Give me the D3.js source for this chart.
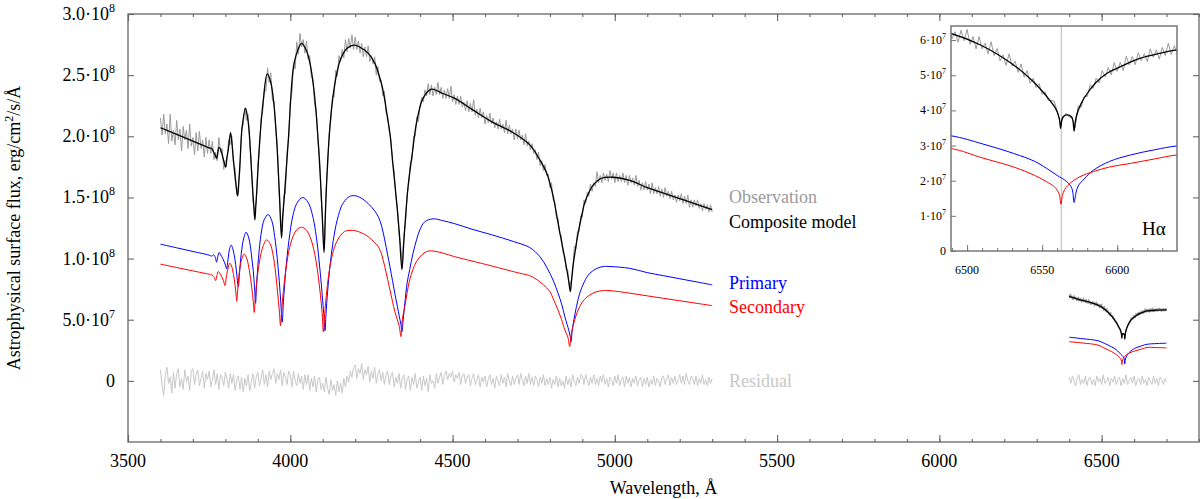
<!DOCTYPE html>
<html>
<head>
<meta charset="utf-8">
<script src="https://cdn.jsdelivr.net/npm/d3@7/dist/d3.min.js"></script>
<style>
	body { margin: 0; background: #fff; }
	text { font-family: "Liberation Serif", "Times New Roman", serif; }
</style>
</head>
<body>
<div id="chart-area"></div>
<script>
// DATA - flux in units of 1e8 erg/cm2/s/A, wavelength in A

// composite model, blue part of the spectrum [wavelength, flux]
const composite = [[3600,2.07],[3650,2.015],[3700,1.96],[3750,1.905],[3758,1.90],[3764,1.87],[3768,1.85],[3773,1.82],[3777,1.87],[3780,1.91],[3784,1.90],[3789,1.86],[3795,1.80],[3801,1.747],[3805,1.83],[3809,1.89],[3816,2.03],[3820,1.95],[3824,1.83],[3828,1.72],[3832,1.62],[3838,1.51],[3842,1.65],[3845,1.78],[3852,2.08],[3862,2.23],[3868,2.16],[3873,2.05],[3881,1.70],[3887,1.45],[3891,1.316],[3894,1.44],[3897,1.56],[3906,1.97],[3917,2.30],[3929,2.51],[3940,2.44],[3950,2.25],[3958,1.97],[3966,1.56],[3973,1.167],[3977,1.35],[3981,1.48],[3994,1.97],[4009,2.55],[4020,2.68],[4035,2.76],[4050,2.70],[4062,2.58],[4072,2.40],[4080,2.18],[4087,1.92],[4093,1.65],[4098,1.38],[4104,1.05],[4108,1.35],[4112,1.62],[4118,1.92],[4127,2.22],[4140,2.47],[4155,2.63],[4175,2.72],[4199,2.745],[4220,2.72],[4240,2.68],[4260,2.60],[4271,2.52],[4282,2.42],[4291,2.30],[4299,2.16],[4307,2.025],[4317,1.75],[4327,1.48],[4336,1.21],[4344,0.91],[4349,1.10],[4353,1.26],[4363,1.59],[4376,1.86],[4389,2.11],[4409,2.31],[4435,2.385],[4470,2.35],[4507,2.31],[4560,2.22],[4620,2.12],[4680,2.04],[4738,1.93],[4769,1.807],[4790,1.70],[4800,1.616],[4810,1.51],[4820,1.37],[4830,1.22],[4841,1.07],[4854,0.88],[4859,0.80],[4863,0.73],[4867,0.83],[4871,0.935],[4879,1.08],[4887,1.21],[4897,1.34],[4907,1.453],[4920,1.54],[4933,1.60],[4959,1.657],[4995,1.665],[5046,1.64],[5100,1.58],[5150,1.535],[5200,1.49],[5250,1.445],[5300,1.40]]

// primary component
const primary = [[3600,1.118],[3650,1.088],[3700,1.058],[3750,1.028],[3758,1.02],[3764,1.03],[3769,1.01],[3773,0.97],[3777,1.02],[3781,1.05],[3786,1.03],[3792,1.00],[3797,0.97],[3801,0.94],[3804,0.915],[3808,0.99],[3813,1.08],[3818,1.11],[3823,1.08],[3829,1.00],[3834,0.90],[3838,0.80],[3840,0.77],[3843,0.86],[3849,1.04],[3856,1.16],[3864,1.215],[3872,1.17],[3880,1.04],[3886,0.90],[3890,0.76],[3893,0.635],[3896,0.78],[3902,1.00],[3910,1.20],[3920,1.32],[3932,1.36],[3943,1.31],[3952,1.18],[3960,1.00],[3966,0.82],[3971,0.63],[3975,0.48],[3979,0.65],[3986,0.90],[3996,1.15],[4008,1.35],[4020,1.45],[4038,1.50],[4055,1.46],[4068,1.36],[4078,1.22],[4087,1.03],[4094,0.84],[4100,0.65],[4104,0.52],[4107,0.41],[4110,0.54],[4115,0.73],[4122,0.93],[4132,1.14],[4145,1.32],[4160,1.44],[4178,1.50],[4194,1.515],[4215,1.50],[4240,1.45],[4260,1.39],[4271,1.343],[4282,1.26],[4291,1.153],[4300,1.03],[4307,0.935],[4315,0.82],[4322,0.717],[4330,0.61],[4336,0.526],[4341,0.46],[4344,0.40],[4348,0.50],[4353,0.635],[4360,0.80],[4368,0.91],[4378,1.04],[4389,1.153],[4400,1.24],[4414,1.30],[4440,1.325],[4470,1.31],[4507,1.285],[4560,1.24],[4620,1.195],[4687,1.14],[4738,1.09],[4769,1.016],[4790,0.93],[4812,0.81],[4825,0.717],[4836,0.63],[4846,0.526],[4853,0.46],[4858,0.417],[4862,0.37],[4865,0.32],[4869,0.42],[4874,0.50],[4882,0.61],[4892,0.717],[4906,0.81],[4923,0.88],[4945,0.92],[4964,0.935],[4985,0.935],[5046,0.92],[5100,0.885],[5150,0.86],[5200,0.835],[5250,0.81],[5300,0.785]]

// secondary component
const secondary = [[3600,0.954],[3650,0.927],[3700,0.899],[3750,0.872],[3757,0.868],[3762,0.86],[3766,0.845],[3770,0.82],[3774,0.86],[3778,0.894],[3783,0.88],[3789,0.85],[3794,0.82],[3799,0.78],[3803,0.85],[3809,0.93],[3814,0.962],[3819,0.94],[3825,0.87],[3830,0.78],[3833,0.71],[3835,0.65],[3838,0.74],[3844,0.91],[3851,1.00],[3858,1.036],[3866,1.00],[3874,0.90],[3881,0.77],[3886,0.65],[3889,0.56],[3892,0.66],[3898,0.84],[3906,0.99],[3916,1.10],[3927,1.153],[3938,1.12],[3947,1.03],[3955,0.88],[3961,0.72],[3966,0.58],[3970,0.45],[3973,0.56],[3979,0.74],[3988,0.94],[3998,1.09],[4010,1.19],[4020,1.235],[4035,1.257],[4050,1.23],[4062,1.17],[4072,1.08],[4080,0.97],[4087,0.84],[4093,0.70],[4098,0.56],[4102,0.40],[4106,0.55],[4111,0.70],[4118,0.86],[4127,1.00],[4140,1.12],[4155,1.19],[4170,1.225],[4184,1.23],[4199,1.229],[4220,1.21],[4240,1.18],[4260,1.13],[4271,1.098],[4282,1.03],[4291,0.935],[4300,0.83],[4307,0.744],[4315,0.65],[4322,0.567],[4330,0.50],[4336,0.444],[4341,0.362],[4345,0.50],[4353,0.608],[4360,0.72],[4368,0.826],[4378,0.91],[4389,0.976],[4405,1.03],[4420,1.057],[4435,1.063],[4470,1.045],[4507,1.015],[4560,0.98],[4620,0.94],[4707,0.88],[4738,0.86],[4769,0.81],[4790,0.76],[4800,0.73],[4812,0.66],[4825,0.58],[4836,0.50],[4846,0.417],[4852,0.38],[4856,0.35],[4861,0.28],[4865,0.37],[4871,0.444],[4880,0.53],[4892,0.608],[4906,0.665],[4923,0.703],[4945,0.73],[4964,0.738],[4985,0.738],[5046,0.717],[5100,0.695],[5150,0.675],[5200,0.655],[5250,0.635],[5300,0.615]]

// H-alpha region models
const compositeHa = [[6400,0.69],[6430,0.665],[6460,0.645],[6489,0.619],[6509,0.586],[6531,0.529],[6544,0.482],[6550,0.455],[6555,0.429],[6558,0.412],[6560,0.396],[6561.5,0.375],[6562.3,0.349],[6563,0.37],[6564,0.382],[6566.5,0.387],[6569.5,0.382],[6570.5,0.37],[6571.3,0.341],[6572,0.365],[6573,0.387],[6576,0.42],[6580,0.448],[6586,0.48],[6593,0.505],[6604,0.528],[6615,0.548],[6628,0.562],[6640,0.572],[6670,0.578],[6700,0.58]]
const primaryHa = [[6400,0.357],[6440,0.345],[6489,0.328],[6510,0.305],[6531,0.2775],[6545,0.255],[6553,0.235],[6560,0.215],[6566.5,0.197],[6569.8,0.178],[6571.3,0.138],[6572.5,0.165],[6574,0.185],[6578,0.205],[6584.2,0.23],[6595,0.255],[6608.7,0.273],[6625,0.288],[6640,0.299],[6670,0.305],[6700,0.308]]
const secondaryHa = [[6400,0.32],[6440,0.31],[6489,0.292],[6510,0.265],[6531,0.239],[6545,0.215],[6553,0.197],[6558,0.183],[6560,0.173],[6561.5,0.16],[6562.5,0.133],[6563.5,0.158],[6565,0.175],[6569.8,0.197],[6576,0.213],[6584.2,0.226],[6595,0.239],[6608.7,0.249],[6625,0.262],[6640,0.273],[6670,0.272],[6700,0.27]]

// observed spectrum and residual, blue part: 3600 A onward, one value every 5 A
const obsBlueStart = 3600
const obsBlueStep = 5
const obsBlue = [2.15,2.01,2.18,2.02,2.10,1.94,2.18,1.96,2.05,1.93,2.13,1.97,2.06,1.88,2.08,1.97,2.05,1.90,2.10,1.92,1.99,1.85,2.03,1.88,2.04,1.90,1.97,1.83,1.99,1.86,1.97,
	1.86,1.96,1.81,1.87,1.80,1.99,1.87,1.90,1.73,1.80,1.81,1.97,1.93,2.00,1.77,1.74,1.52,1.60,1.72,2.07,2.09,2.23,2.13,2.18,1.94,1.79,1.47,1.39,1.45,1.77,1.88,2.15,2.20,2.37,2.37,2.56,2.44,2.52,2.29,2.29,2.06,1.93,1.56,1.36,1.22,1.52,1.53,1.87,1.98,2.28,2.35,2.60,2.55,2.77,2.67,2.84,2.73,
	2.79,2.68,2.78,2.63,2.66,2.48,2.47,2.26,2.22,1.97,1.84,1.50,1.29,1.07,1.55,1.74,2.03,2.13,2.33,2.32,2.54,2.49,2.66,2.61,2.71,2.64,2.79,2.69,2.80,2.72,2.83,2.71,2.81,2.71,2.78,2.68,2.76,2.65,2.73,2.65,2.74,2.61,2.66,2.59,2.65,2.50,2.57,2.45,2.46,2.33,2.37,2.19,2.17,2.04,1.98,1.78,1.72,1.51,1.42,1.20,1.11,0.92,1.20,1.27,1.52,1.61,1.79,1.80,2.00,2.00,2.16,2.12,2.25,
	2.32,2.28,2.38,2.33,2.43,2.34,2.42,2.33,2.40,2.34,2.44,2.34,2.40,2.31,2.38,2.31,2.39,2.31,2.41,2.28,
	2.34,2.26,2.33,2.26,2.33,2.24,2.28,2.21,2.29,2.20,2.27,2.20,2.30,2.17,2.22,2.15,2.23,2.15,2.20,2.10,
	2.17,2.11,2.19,2.10,2.15,2.07,2.12,2.06,2.14,2.06,2.10,2.03,2.13,2.02,2.09,2.02,2.06,1.97,2.06,1.98,
	2.05,1.97,2.01,1.93,2.02,1.92,1.96,1.89,1.94,1.86,1.89,1.81,1.87,1.76,1.80,1.72,1.77,1.68,1.69,1.58,
	1.62,1.48,1.46,1.33,1.33,1.20,1.19,1.05,1.03,0.91,0.91,0.76,0.81,0.88,1.10,1.08,1.22,1.22,1.35,1.34,
	1.48,1.45,1.54,1.51,1.61,1.55,1.62,1.59,1.71,1.62,1.68,1.62,1.70,1.64,1.69,1.63,1.72,1.65,1.70,1.62,
	1.70,1.63,1.68,1.63,1.70,1.62,1.68,1.60,1.68,1.62,1.66,1.60,1.68,1.59,1.64,1.56,1.62,1.56,1.63,1.56,
	1.61,1.53,1.62,1.53,1.58,1.53,1.59,1.51,1.57,1.50,1.58,1.51,1.55,1.49,1.55,1.48,1.52,1.46,1.52,1.47,
	1.53,1.45,1.51,1.45,1.52,1.42,1.48,1.42,1.48,1.43,1.48,1.41,1.45,1.39,1.45,1.40,1.44,1.38,1.44,1.38]

const residualBlue = [0.09,-0.04,-0.12,0.05,0.11,-0.02,0.03,-0.10,0.07,-0.06,
	0.06,0.10,-0.05,0.02,-0.07,0.09,-0.01,0.04,-0.08,0.08,
	0.10,-0.03,0.05,0.09,-0.04,0.02,0.08,-0.06,0.06,0.01,
	0.08,-0.05,0.01,0.09,-0.03,0.06,-0.07,0.05,0.03,-0.04,
	0.07,0.02,-0.06,0.06,-0.02,0.05,-0.08,0.01,0.04,-0.07,
	0.03,-0.09,0.02,-0.04,0.05,-0.08,-0.01,0.06,-0.06,0.03,
	0.07,-0.04,0.02,0.09,-0.03,0.05,-0.05,0.08,0.01,0.06,
	0.10,-0.02,0.06,0.01,0.09,-0.04,0.07,0.03,-0.03,0.08,
	0.05,-0.05,0.08,0.00,-0.04,0.06,-0.02,0.04,-0.07,0.05,
	-0.03,0.05,-0.08,0.02,-0.05,0.04,-0.09,0.01,0.03,-0.07,
	-0.02,-0.09,0.03,-0.06,-0.11,0.01,-0.08,-0.03,-0.12,0.00,
	-0.09,-0.02,-0.10,0.02,-0.05,0.04,-0.01,0.08,0.03,0.11,
	0.13,0.02,0.10,0.06,0.14,0.01,0.09,0.05,0.12,-0.01,
	0.08,0.02,0.11,-0.02,0.06,0.09,0.00,0.07,-0.03,0.05,
	0.08,-0.03,0.04,0.07,-0.05,0.03,-0.02,0.06,-0.06,0.02,
	0.05,-0.07,0.01,0.04,-0.08,0.03,-0.03,0.06,-0.06,-0.01,
	0.03,-0.08,0.04,-0.04,0.02,-0.09,0.05,-0.02,0.00,-0.06,
	0.06,-0.02,0.03,0.07,-0.03,0.05,0.08,0.01,0.06,0.03,
	0.08,-0.01,0.05,0.02,0.07,-0.03,0.04,0.06,-0.02,0.03,
	0.05,-0.04,0.02,0.06,-0.03,0.01,0.05,-0.05,0.03,-0.01,
	0.04,-0.05,0.01,0.05,-0.03,0.02,-0.06,0.04,0.00,-0.04,
	0.05,-0.02,0.03,-0.05,0.06,0.00,-0.04,0.04,-0.03,0.02,
	0.05,-0.03,0.06,0.01,-0.04,0.04,-0.02,0.06,-0.03,0.03,
	-0.04,0.04,0.01,-0.05,0.03,-0.02,0.05,-0.04,0.02,-0.03,
	0.03,-0.06,0.01,-0.03,0.04,-0.05,0.02,-0.04,0.00,-0.06,
	0.04,-0.03,0.02,-0.05,0.05,0.00,-0.04,0.03,-0.02,0.05,
	0.04,-0.03,0.05,0.01,-0.04,0.03,-0.02,0.05,-0.03,0.02,
	-0.04,0.04,-0.01,0.05,-0.03,0.02,-0.05,0.03,0.01,-0.04,
	0.04,-0.02,0.05,-0.04,0.01,0.03,-0.05,0.04,-0.02,0.03,
	-0.05,0.02,-0.02,0.04,-0.04,0.01,0.03,-0.05,0.02,-0.03,
	0.03,-0.05,0.01,-0.03,0.04,-0.04,0.02,0.00,-0.05,0.03,
	0.04,-0.03,0.02,0.05,-0.04,0.03,-0.02,0.04,-0.03,0.01,
	0.05,-0.02,0.04,-0.03,0.06,0.00,-0.03,0.04,0.02,-0.03,
	0.04,-0.04,0.02,-0.02,0.05,-0.03,0.01,-0.04,0.03,-0.02,
	0.02]

// observed spectrum around H-alpha: 6400 A onward, one value every 2 A
const obsHaStart = 6400
const obsHaStep = 2
const obsHa = [0.708,0.676,0.712,0.677,0.698,0.662,0.690,0.663,0.699,0.669,0.687,0.654,0.678,0.658,0.687,0.651,0.676,0.654,0.677,0.641,
	0.667,0.644,0.680,0.647,0.664,0.636,0.669,0.639,0.654,0.631,0.666,0.634,0.654,0.623,0.646,0.624,0.652,0.627,0.646,0.609,
	0.639,0.618,0.647,0.611,0.636,0.604,0.624,0.594,0.628,0.598,0.630,0.588,0.610,0.575,0.610,0.575,0.591,0.561,0.595,0.556,
	0.576,0.541,0.558,0.528,0.561,0.526,0.540,0.508,0.532,0.495,0.513,0.477,0.491,0.465,0.476,0.445,0.453,0.428,0.428,0.427,
	0.398,0.363,0.378,0.392,0.381,0.378,0.351,0.413,0.408,0.441,0.439,0.473,0.462,0.492,0.478,0.513,0.495,0.522,0.501,0.536,
	0.511,0.537,0.513,0.554,0.529,0.553,0.530,0.564,0.541,0.561,0.539,0.575,0.551,0.572,0.546,0.579,0.556,0.591,0.559,0.584,
	0.560,0.589,0.565,0.584,0.559,0.593,0.569,0.589,0.562,0.598,0.566,0.588,0.563,0.586,0.569,0.594,0.567,0.591,0.570,0.597,
	0.572,0.591,0.564,0.590,0.572,0.594,0.568,0.589,0.570,0.595,0.574]

// residual around H-alpha: 6400 A onward, one value every 5 A
const residualHaStart = 6400
const residualHaStep = 5
const residualHa = [0.03,-0.02,0.04,0.00,-0.04,0.02,0.05,-0.03,0.01,-0.02,
	0.04,-0.04,0.02,0.03,-0.03,0.01,-0.04,0.04,-0.01,0.02,
	-0.03,0.05,-0.02,0.00,0.03,-0.04,0.02,-0.01,0.04,-0.03,
	0.01,0.03,-0.04,0.02,-0.02,0.05,-0.03,0.00,0.03,-0.02,
	0.04,-0.04,0.01,0.02,-0.03,0.04,-0.02,0.01,-0.04,0.03,
	0.00,-0.03,0.04,-0.02,0.02,-0.04,0.03,0.01,-0.03,0.02,
	-0.01]

const haRest = 6562.8

// TICKS AND LABELS
const xMajorTicks = [3500, 4000, 4500, 5000, 5500, 6000, 6500]
const yTicks = [0, 0.5, 1.0, 1.5, 2.0, 2.5, 3.0]
const yTickMantissa = ["0", "5.0·10", "1.0·10", "1.5·10", "2.0·10", "2.5·10", "3.0·10"]
const yTickExponent = ["", "7", "8", "8", "8", "8", "8"]

const insetXTicks = [6500, 6550, 6600]
const insetYTicks = [0, 0.1, 0.2, 0.3, 0.4, 0.5, 0.6]
const insetYMantissa = ["0", "1·10", "2·10", "3·10", "4·10", "5·10", "6·10"]
const insetYExponent = ["", "7", "7", "7", "7", "7", "7"]

const legendLabels = ["Observation", "Composite model", "Primary", "Secondary", "Residual"]

// STYLES
const COLOR = {
	obs: "#9a9a9a",
	model: "#000000",
	primary: "#0000ff",
	secondary: "#ff0000",
	residual: "#c8c8c8",
	frame: "#666666",
	haLine: "#cccccc"
}
const legendColors = [COLOR.obs, COLOR.model, COLOR.primary, COLOR.secondary, COLOR.residual]
const LEGEND_Y = [189, 214, 275, 299, 373]

// MARGINS
const MARGIN = { LEFT: 128, RIGHT: 1, TOP: 14, BOTTOM: 57 }
const AREA_WIDTH = 1200
const AREA_HEIGHT = 499
const WIDTH = AREA_WIDTH - MARGIN.LEFT - MARGIN.RIGHT
const HEIGHT = AREA_HEIGHT - MARGIN.TOP - MARGIN.BOTTOM

// INSET BOX (absolute position)
const INSET = { LEFT: 951, TOP: 26, WIDTH: 226, HEIGHT: 225 }

const svg = d3.select("#chart-area").append("svg")
	.attr("width", AREA_WIDTH)
	.attr("height", AREA_HEIGHT)

const g = svg.append("g")
	.attr("transform", `translate(${MARGIN.LEFT},${MARGIN.TOP})`)

// SCALES
const x = d3.scaleLinear().domain([3500, 6800]).range([0, WIDTH])
const y = d3.scaleLinear().domain([-0.5, 3.0]).range([HEIGHT, 0])

const toPairs = (start, step, values) => values.map((v, i) => [start + i * step, v])

const smoothLine = d3.line()
	.x(d => x(d[0]))
	.y(d => y(d[1]))
	.curve(d3.curveCatmullRom.alpha(0.5))

const rawLine = d3.line()
	.x(d => x(d[0]))
	.y(d => y(d[1]))

function drawPath(parent, data, gen, color, width) {
	parent.append("path")
		.attr("d", gen(data))
		.attr("fill", "none")
		.attr("stroke", color)
		.attr("stroke-width", width)
		.attr("stroke-linejoin", "round")
}

// superscript labels like 2.0·10^8
function expText(sel, mantissa, exponent, supSize, rise) {
	sel.each(function (d, i) {
		const t = d3.select(this)
		t.append("tspan").text(mantissa[i])
		if (exponent[i]) t.append("tspan").attr("dy", -rise).attr("font-size", supSize).text(exponent[i])
	})
}

// FRAME + TICKS
g.append("rect")
	.attr("width", WIDTH)
	.attr("height", HEIGHT)
	.attr("fill", "none")
	.attr("stroke", COLOR.frame)
	.attr("stroke-width", 1.3)

const xMinor = d3.range(3500, 6801, 100)

const tickGroups = [
	g.append("g").attr("transform", `translate(0,${HEIGHT})`).call(d3.axisBottom(x).tickValues(xMinor).tickSize(-3).tickFormat("")),
	g.append("g").attr("transform", `translate(0,${HEIGHT})`).call(d3.axisBottom(x).tickValues(xMajorTicks).tickSize(-7).tickFormat("")),
	g.append("g").call(d3.axisTop(x).tickValues(xMinor).tickSize(-3).tickFormat("")),
	g.append("g").call(d3.axisTop(x).tickValues(xMajorTicks).tickSize(-7).tickFormat("")),
	g.append("g").call(d3.axisLeft(y).tickValues(yTicks).tickSize(-6).tickFormat("")),
	g.append("g").attr("transform", `translate(${WIDTH},0)`).call(d3.axisRight(y).tickValues(yTicks).tickSize(-6).tickFormat(""))
]
tickGroups.forEach(tg => {
	tg.select(".domain").remove()
	tg.selectAll("line").attr("stroke", COLOR.frame).attr("stroke-width", 1.1)
})

// tick labels
g.selectAll(".x-label").data(xMajorTicks).enter().append("text")
	.attr("class", "x-label")
	.attr("x", d => x(d))
	.attr("y", HEIGHT + 25)
	.attr("text-anchor", "middle")
	.attr("font-size", 18)
	.text(d => d)

g.selectAll(".y-label").data(yTicks).enter().append("text")
	.attr("class", "y-label")
	.attr("x", -13)
	.attr("y", d => y(d) + 6)
	.attr("text-anchor", "end")
	.attr("font-size", 18)
	.call(expText, yTickMantissa, yTickExponent, 12, 8)

// axis titles
const yTitle = svg.append("text")
	.attr("transform", "translate(20,228) rotate(-90)")
	.attr("text-anchor", "middle")
	.attr("font-size", 18)
yTitle.append("tspan").text("Astrophysical surface flux, erg/cm")
yTitle.append("tspan").attr("dy", -7).attr("font-size", 12).text("2")
yTitle.append("tspan").attr("dy", 7).text("/s/Å")

g.append("text")
	.attr("x", WIDTH / 2)
	.attr("y", HEIGHT + 52)
	.attr("text-anchor", "middle")
	.attr("font-size", 18)
	.text("Wavelength, Å")

// SPECTRA - main panel
const obsBluePts = toPairs(obsBlueStart, obsBlueStep, obsBlue)
const obsHaPts = toPairs(obsHaStart, obsHaStep, obsHa)

drawPath(g, obsBluePts, rawLine, COLOR.obs, 1)
drawPath(g, obsHaPts, rawLine, COLOR.obs, 1)
drawPath(g, composite, smoothLine, COLOR.model, 1.3)
drawPath(g, compositeHa, smoothLine, COLOR.model, 1.3)
drawPath(g, primary, smoothLine, COLOR.primary, 1)
drawPath(g, primaryHa, smoothLine, COLOR.primary, 1)
drawPath(g, secondary, smoothLine, COLOR.secondary, 1)
drawPath(g, secondaryHa, smoothLine, COLOR.secondary, 1)
drawPath(g, toPairs(obsBlueStart, obsBlueStep, residualBlue), rawLine, COLOR.residual, 1)
drawPath(g, toPairs(residualHaStart, residualHaStep, residualHa), rawLine, COLOR.residual, 1)

// legend
g.selectAll(".legend").data(legendLabels).enter().append("text")
	.attr("class", "legend")
	.attr("x", 601)
	.attr("y", (d, i) => LEGEND_Y[i])
	.attr("font-size", 18)
	.attr("fill", (d, i) => legendColors[i])
	.text(d => d)

// INSET - zoom on H-alpha
const ix = d3.scaleLinear().domain([6489.3, 6639.8]).range([0, INSET.WIDTH])
const iy = d3.scaleLinear().domain([0, 0.64]).range([INSET.HEIGHT, 0])

const inset = svg.append("g")
	.attr("transform", `translate(${INSET.LEFT},${INSET.TOP})`)

inset.append("rect")
	.attr("width", INSET.WIDTH)
	.attr("height", INSET.HEIGHT)
	.attr("fill", "#fff")

inset.append("clipPath").attr("id", "inset-clip")
	.append("rect")
	.attr("width", INSET.WIDTH)
	.attr("height", INSET.HEIGHT)

const insetPlot = inset.append("g").attr("clip-path", "url(#inset-clip)")

insetPlot.append("line")
	.attr("x1", ix(haRest)).attr("x2", ix(haRest))
	.attr("y1", 0).attr("y2", INSET.HEIGHT)
	.attr("stroke", COLOR.haLine)
	.attr("stroke-width", 1.5)

const insetSmooth = d3.line().x(d => ix(d[0])).y(d => iy(d[1])).curve(d3.curveCatmullRom.alpha(0.5))
const insetRaw = d3.line().x(d => ix(d[0])).y(d => iy(d[1]))

drawPath(insetPlot, obsHaPts, insetRaw, COLOR.obs, 1)
drawPath(insetPlot, compositeHa, insetSmooth, COLOR.model, 1.3)
drawPath(insetPlot, primaryHa, insetSmooth, COLOR.primary, 1)
drawPath(insetPlot, secondaryHa, insetSmooth, COLOR.secondary, 1)

inset.append("rect")
	.attr("width", INSET.WIDTH)
	.attr("height", INSET.HEIGHT)
	.attr("fill", "none")
	.attr("stroke", "#777")
	.attr("stroke-width", 1.5)

const insetTicks = [
	inset.append("g").attr("transform", `translate(0,${INSET.HEIGHT})`).call(d3.axisBottom(ix).tickValues(d3.range(6490, 6640, 10)).tickSize(-3).tickFormat("")),
	inset.append("g").attr("transform", `translate(0,${INSET.HEIGHT})`).call(d3.axisBottom(ix).tickValues(insetXTicks).tickSize(-6).tickFormat("")),
	inset.append("g").call(d3.axisLeft(iy).tickValues(insetYTicks).tickSize(-5).tickFormat(""))
]
insetTicks.forEach(tg => {
	tg.select(".domain").remove()
	tg.selectAll("line").attr("stroke", "#777").attr("stroke-width", 1)
})

inset.selectAll(".ix-label").data(insetXTicks).enter().append("text")
	.attr("class", "ix-label")
	.attr("x", d => ix(d))
	.attr("y", INSET.HEIGHT + 23)
	.attr("text-anchor", "middle")
	.attr("font-size", 12)
	.text(d => d)

inset.selectAll(".iy-label").data(insetYTicks).enter().append("text")
	.attr("class", "iy-label")
	.attr("x", -5)
	.attr("y", d => iy(d) + 4)
	.attr("text-anchor", "end")
	.attr("font-size", 12)
	.call(expText, insetYMantissa, insetYExponent, 8, 5)

inset.append("text")
	.attr("x", 191)
	.attr("y", 209)
	.attr("font-size", 19)
	.text("Hα")
</script>
</body>
</html>
